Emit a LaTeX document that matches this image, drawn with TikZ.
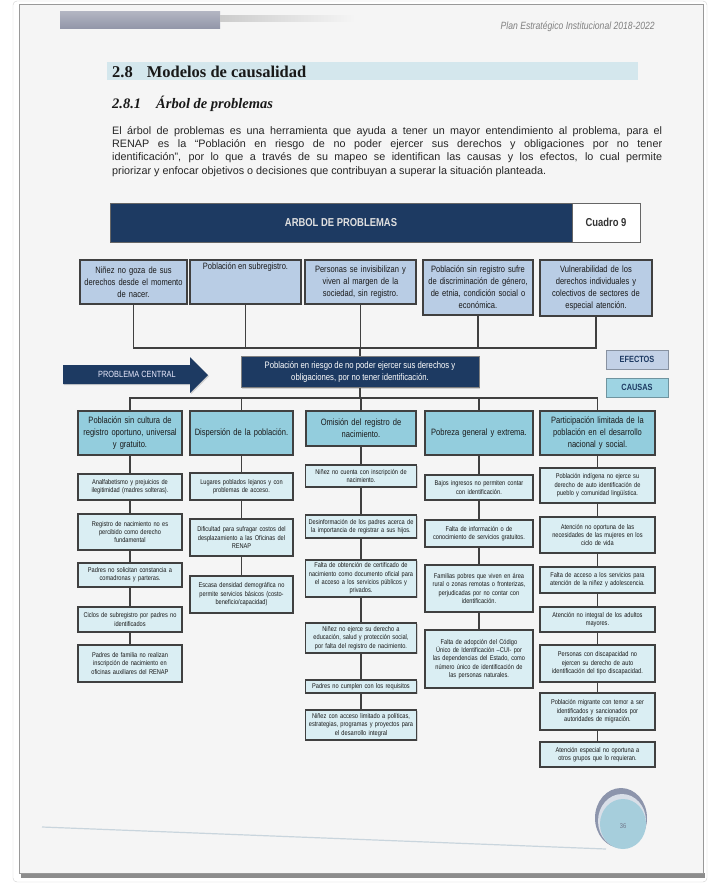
\documentclass[tikz,border=0pt]{standalone}
\usepackage{fontspec}
\setmainfont{Liberation Sans}
\newfontfamily\nar[FakeStretch=0.82]{Liberation Sans}
\newfontfamily\serifh{Liberation Serif}
\usetikzlibrary{shadows}
\definecolor{navy}{HTML}{1D3A62}
\definecolor{effill}{HTML}{B9CDE5}
\definecolor{cafill}{HTML}{93CDDD}
\definecolor{subfill}{HTML}{DAEEF3}
\definecolor{bord}{HTML}{404040}
\definecolor{txt}{HTML}{1A1A1A}
\definecolor{pagebg}{HTML}{F5F5F5}
\definecolor{secbar}{HTML}{D4E7ED}
\definecolor{legef}{HTML}{C3D1E6}
\definecolor{legca}{HTML}{9ED4E3}
\definecolor{hbar}{HTML}{9397A9}
\definecolor{pgout}{HTML}{8D95AC}
\definecolor{pgmid}{HTML}{D9DFE8}
\definecolor{pgin}{HTML}{A6CEDC}
\definecolor{foot}{HTML}{C9D5DD}
\tikzset{
  conn/.style={draw=bord, line width=1.1pt},
  effbox/.style={draw=bord, line width=1.4pt, fill=effill, align=center, text=txt, inner sep=1pt,
    font=\nar\fontsize{9.2}{12}\selectfont,
    drop shadow={shadow xshift=1.2pt, shadow yshift=-1.2pt, opacity=0.3}},
  causebox/.style={effbox, fill=cafill},
  subbox/.style={effbox, fill=subfill, line width=1.2pt, inner sep=0.5pt, font=\nar\fontsize{6.9}{8.4}\selectfont},
  colA/.style={minimum width=104pt, text width=103pt},
  colB/.style={minimum width=103pt, text width=102pt},
  colC/.style={minimum width=110pt, text width=110pt},
  colD/.style={minimum width=108pt, text width=107pt},
  colE/.style={minimum width=115pt, text width=114pt},
  legend/.style={draw=#1!70!black, line width=1pt, fill=#1, text=navy, font=\nar\bfseries\fontsize{9}{9}\selectfont,
    minimum width=62pt, minimum height=19pt, inner sep=0pt,
    drop shadow={shadow xshift=1.2pt, shadow yshift=-1.2pt, opacity=0.3}},
}
\begin{document}
\begin{tikzpicture}[x=1pt,y=-1pt]
\useasboundingbox (0,0) rectangle (708,884);
% page
\fill[white] (0,0) rectangle (708,884);
\draw[draw=black!18, fill=white, rounded corners=4pt] (13,1) rectangle (707,882);
\fill[black!45] (21,873) rectangle (705,878);
\draw[draw=black!40, fill=pagebg, line width=0.8pt] (19,4) rectangle (703,873);
% header
\shade[top color=hbar!70, bottom color=hbar] (60,11) rectangle (220,28);
\shade[left color=black!20, right color=pagebg] (220,15) rectangle (355,21);
\node[anchor=base east, inner sep=0, text=black!50, font=\nar\itshape\fontsize{10.5}{10.5}\selectfont] (hdr) at (655,29) {Plan Estratégico Institucional 2018-2022};
% section headings
\fill[secbar] (107,62) rectangle (638,80);
\node[anchor=base west, inner sep=0, text=black!90, font=\serifh\bfseries\fontsize{16.5}{16.5}\selectfont] (h1) at (112,77) {2.8\hspace{14pt}Modelos de causalidad};
\node[anchor=base west, inner sep=0, text=black!90, font=\serifh\bfseries\itshape\fontsize{14.5}{14.5}\selectfont] (h2) at (112,108) {2.8.1\hspace{15pt}Árbol de problemas};
\node[anchor=north west, inner sep=0, text width=550pt, align=justify, text=black!85,
  font=\fontsize{10.8}{13.4}\selectfont] (par) at (112,126)
 {El árbol de problemas es una herramienta que ayuda a tener un mayor entendimiento al problema, para el\linebreak
  RENAP es la “Población en riesgo de no poder ejercer sus derechos y obligaciones por no tener\linebreak
  identificación”, por lo que a través de su mapeo se identifican las causas y los efectos, lo cual permite\linebreak
  priorizar y enfocar objetivos o decisiones que contribuyan a superar la situación planteada.};
% title bar
\node[fill=navy, draw=black!60, minimum width=462pt, minimum height=39pt, inner sep=0, text=black!12,
  font=\nar\bfseries\fontsize{11.5}{11.5}\selectfont] (tit) at (341,222.5) {ARBOL DE PROBLEMAS};
\node[fill=white, draw=black!60, minimum width=68pt, minimum height=39pt, inner sep=0, text=black!80,
  font=\nar\bfseries\fontsize{11.5}{11.5}\selectfont] (cua) at (606,222.5) {Cuadro 9};
% effects
\node[effbox, minimum width=107pt, text width=103pt, minimum height=44pt] (e1) at (133.5,282) {Niñez no goza de sus\\derechos desde el momento\\de nacer.};
\node[effbox, minimum width=111pt, minimum height=44pt] (e2) at (245.5,282) {\parbox[c][40pt][t]{105pt}{\centering\vspace{1pt}Población en subregistro.}};
\node[effbox, minimum width=111pt, text width=107pt, minimum height=44pt] (e3) at (360.5,282) {Personas se invisibilizan y\\viven al margen de la\\sociedad, sin registro.};
\node[effbox, minimum width=110pt, text width=106pt, minimum height=55pt] (e4) at (478,287.5) {Población sin registro sufre\\de discriminación de género,\\de etnia, condición social o\\económica.};
\node[effbox, minimum width=112pt, text width=108pt, minimum height=56pt] (e5) at (596,288) {Vulnerabilidad de los\\derechos individuales y\\colectivos de sectores de\\especial atención.};
% central problem
\node[fill=navy, draw=black!50, line width=0.8pt, text=white, align=center, minimum width=238pt, minimum height=31pt, inner sep=0,
  font=\nar\fontsize{9.4}{11.7}\selectfont, drop shadow={shadow xshift=1.2pt, shadow yshift=-1.2pt, opacity=0.3}] (cp) at (360,372)
  {Población en riesgo de no poder ejercer sus derechos y\\obligaciones, por no tener identificación.};
\fill[navy, drop shadow={shadow xshift=1.2pt, shadow yshift=-1.2pt, opacity=0.3}] (63,365) -- (190,365) -- (190,357) -- (208,375) -- (190,393) -- (190,384) -- (63,384) -- cycle;
\node[text=white!92!blue, inner sep=0, font=\nar\fontsize{9}{9}\selectfont] (pcl) at (137,374.5) {PROBLEMA CENTRAL};
\node[legend=legef] (lef) at (637,359.5) {EFECTOS};
\node[legend=legca] (lca) at (637,387.5) {CAUSAS};
% cause headers
\node[causebox, minimum width=104pt, text width=100pt, minimum height=44pt] (c1) at (130,433) {Población sin cultura de\\registro oportuno, universal\\y gratuito.};
\node[causebox, minimum width=103pt, text width=99pt, minimum height=44pt] (c2) at (241.5,433) {Dispersión de la población.};
\node[causebox, minimum width=110pt, text width=106pt, minimum height=35pt] (c3) at (361,428.5) {Omisión del registro de\\nacimiento.};
\node[causebox, minimum width=108pt, text width=104pt, minimum height=44pt] (c4) at (479,433) {Pobreza general y extrema.};
\node[causebox, minimum width=115pt, text width=111pt, minimum height=44pt] (c5) at (597.5,433) {Participación limitada de la\\población en el desarrollo\\nacional y social.};
% column 1
\node[subbox, colA, minimum height=26pt] (a1) at (130,487) {Analfabetismo y prejuicios de\\ilegitimidad (madres solteras).};
\node[subbox, colA, minimum height=36pt] (a2) at (130,532) {Registro de nacimiento no es\\percibido como derecho\\fundamental};
\node[subbox, colA, minimum height=24pt] (a3) at (130,575) {Padres no solicitan constancia a\\comadronas y parteras.};
\node[subbox, colA, minimum height=25pt] (a4) at (130,619.5) {Ciclos de subregistro por padres no\\identificados};
\node[subbox, colA, minimum height=37pt] (a5) at (130,663.5) {Padres de familia no realizan\\inscripción de nacimiento en\\oficinas auxiliares del RENAP};
% column 2
\node[subbox, colB, minimum height=27pt] (b1) at (241.5,486.5) {Lugares poblados lejanos y con\\problemas de acceso.};
\node[subbox, colB, minimum height=37pt] (b2) at (241.5,537.5) {Dificultad para sufragar costos del\\desplazamiento a las Oficinas del\\RENAP};
\node[subbox, colB, minimum height=37pt] (b3) at (241.5,594.5) {Escasa densidad demográfica no\\permite servicios básicos (costo-\\beneficio/capacidad)};
% column 3
\node[subbox, colC, minimum height=22pt] (d1) at (361,476) {Niñez no cuenta con inscripción de\\nacimiento.};
\node[subbox, colC, minimum height=23pt] (d2) at (361,526.5) {Desinformación de los padres acerca de\\la importancia de registrar a sus hijos.};
\node[subbox, colC, minimum height=37pt] (d3) at (361,578.5) {Falta de obtención de certificado de\\nacimiento como documento oficial para\\el acceso a los servicios públicos y\\privados.};
\node[subbox, colC, minimum height=30pt] (d4) at (361,638) {Niñez no ejerce su derecho a\\educación, salud y protección social,\\por falta del registro de nacimiento.};
\node[subbox, colC, minimum height=13pt] (d5) at (361,686.5) {Padres no cumplen con los requisitos};
\node[subbox, colC, minimum height=30pt] (d6) at (361,725) {Niñez con acceso limitado a políticas,\\estrategias, programas y proyectos para\\el desarrollo integral};
% column 4
\node[subbox, colD, minimum height=25pt] (f1) at (479,487.5) {Bajos ingresos no permiten contar\\con identificación.};
\node[subbox, colD, minimum height=27pt] (f2) at (479,533.5) {Falta de información o de\\conocimiento de servicios gratuitos.};
\node[subbox, colD, minimum height=47pt] (f3) at (479,588.5) {Familias pobres que viven en área\\rural o zonas remotas o fronterizas,\\perjudicadas por no contar con\\identificación.};
\node[subbox, colD, minimum height=58pt] (f4) at (479,659) {Falta de adopción del Código\\Único de Identificación –CUI- por\\las dependencias del Estado, como\\número único de identificación de\\las personas naturales.};
% column 5
\node[subbox, colE, minimum height=35pt] (g1) at (597.5,485.5) {Población indígena no ejerce su\\derecho de auto identificación de\\pueblo y comunidad lingüística.};
\node[subbox, colE, minimum height=36pt] (g2) at (597.5,535) {Atención no oportuna de las\\necesidades de las mujeres en los\\ciclo de vida};
\node[subbox, colE, minimum height=26pt] (g3) at (597.5,580) {Falta de acceso a los servicios para\\atención de la niñez y adolescencia.};
\node[subbox, colE, minimum height=25pt] (g4) at (597.5,619.5) {Atención no integral de los adultos\\mayores.};
\node[subbox, colE, minimum height=37pt] (g5) at (597.5,663.5) {Personas con discapacidad no\\ejercen su derecho de auto\\identificación del tipo discapacidad.};
\node[subbox, colE, minimum height=37pt] (g6) at (597.5,711.5) {Población migrante con temor a ser\\identificados y sancionados por\\autoridades de migración.};
\node[subbox, colE, minimum height=25pt] (g7) at (597.5,754.5) {Atención especial no oportuna a\\otros grupos que lo requieran.};
% connectors
\coordinate (eb) at (361,348);
\coordinate (cb) at (361,398);
\draw[conn] (e1.south) -- (e1.south |- eb) -- (e5.south |- eb) -- (e5.south);
\foreach \n in {e2,e3,e4} \draw[conn] (\n.south) -- (\n.south |- eb);
\draw[conn] (cp.north) -- (cp.north |- eb);
\draw[conn] (cp.south) -- (cp.south |- cb);
\draw[conn] (c1.north) -- (c1.north |- cb) -- (c5.north |- cb) -- (c5.north);
\foreach \n in {c2,c3,c4} \draw[conn] (\n.north) -- (\n.north |- cb);
\draw[conn] (c1.south) -- (a1.north);
\draw[conn] (a1.south) -- (a2.north);
\draw[conn] (a2.south) -- (a3.north);
\draw[conn] (a3.south) -- (a4.north);
\draw[conn] (a4.south) -- (a5.north);
\draw[conn] (c2.south) -- (b1.north);
\draw[conn] (b1.south) -- (b2.north);
\draw[conn] (b2.south) -- (b3.north);
\draw[conn] (c3.south) -- (d1.north);
\draw[conn] (d1.south) -- (d2.north);
\draw[conn] (d2.south) -- (d3.north);
\draw[conn] (d3.south) -- (d4.north);
\draw[conn] (d4.south) -- (d5.north);
\draw[conn] (d5.south) -- (d6.north);
\draw[conn] (c4.south) -- (f1.north);
\draw[conn] (f1.south) -- (f2.north);
\draw[conn] (f2.south) -- (f3.north);
\draw[conn] (f3.south) -- (f4.north);
\draw[conn] (c5.south) -- (g1.north);
\draw[conn] (g1.south) -- (g2.north);
\draw[conn] (g2.south) -- (g3.north);
\draw[conn] (g3.south) -- (g4.north);
\draw[conn] (g4.south) -- (g5.north);
\draw[conn] (g5.south) -- (g6.north);
\draw[conn] (g6.south) -- (g7.north);
% footer line and page number
\draw[draw=foot, line width=1.2pt] (42,827) -- (606,849);
\fill[pgout] (621,818) ellipse [x radius=26, y radius=30];
\fill[pgmid] (622,821) ellipse [x radius=24, y radius=27];
\fill[pgin] (623,824) ellipse [x radius=23, y radius=25];
\node[inner sep=0, text=pgout!80!black, font=\nar\fontsize{7}{7}\selectfont] (pg) at (623,826) {36};
\end{tikzpicture}
\end{document}
